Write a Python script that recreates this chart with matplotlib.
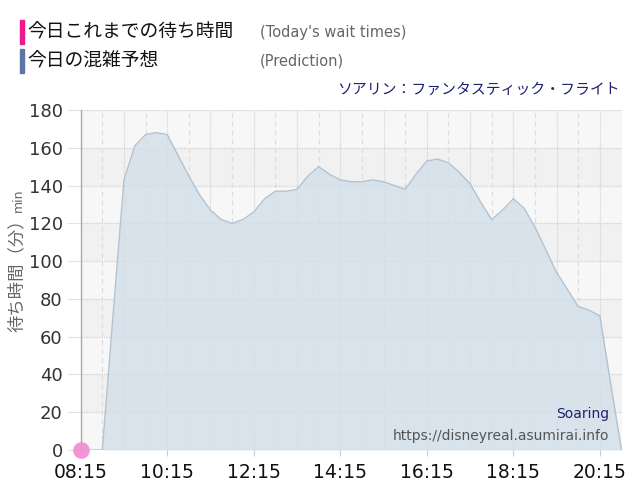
import matplotlib
matplotlib.use("Agg")
import matplotlib.pyplot as plt
from matplotlib.patches import Rectangle

plt.rcParams["font.family"] = ["DejaVu Sans", "Noto Sans CJK JP"]

# ─── Data ─────────────────────────────────────────────────────────────────────
START_HOUR, START_MIN = 8, 15
STEP_MIN = 15

# 今日の混雑予想 (prediction), every 15 min from 08:15 to 20:45
prediction = [
    0, 0, 0, 72, 143, 161, 167, 168, 167, 156, 145, 135, 127, 122, 120, 122,
    126, 133, 137, 137, 138, 145, 150, 146, 143, 142, 142, 143, 142, 140, 138,
    146, 153, 154, 152, 147, 141, 131, 122, 127, 133, 128, 118, 106, 94, 85,
    76, 74, 71, 35, 0,
]
# 今日これまでの待ち時間 (actual so far)
actual_times = ["08:15"]
actual_values = [0]

x_tick_labels = ["08:15", "10:15", "12:15", "14:15", "16:15", "18:15", "20:15"]
y_ticks = [0, 20, 40, 60, 80, 100, 120, 140, 160, 180]

legend_labels = ["今日これまでの待ち時間", "今日の混雑予想"]
legend_notes = ["(Today's wait times)", "(Prediction)"]
title = "ソアリン：ファンタスティック・フライト"
attraction = "Soaring"
source = "https://disneyreal.asumirai.info"


def to_min(label):
    h, m = label.split(":")
    return (int(h) - START_HOUR) * 60 + int(m) - START_MIN


pred_x = [i * STEP_MIN for i in range(len(prediction))]
actual_x = [to_min(t) for t in actual_times]

# ─── Figure ───────────────────────────────────────────────────────────────────
W, H = 640, 500
fig = plt.figure(figsize=(W / 100, H / 100), dpi=100)
ax = fig.add_axes([80.7 / W, 50 / H, (621.5 - 80.7) / W, 340 / H])

x_max = pred_x[-1]
ax.set_xlim(0, x_max)
ax.set_ylim(0, 180)

# alternating background bands (top band is the lighter one)
for k, (lo, hi) in enumerate(zip(y_ticks[:-1], y_ticks[1:])):
    ax.axhspan(lo, hi, color="#f7f7f7" if k % 2 == 0 else "#f1f1f1",
               lw=0, zorder=0)

# grid lines
for yv in y_ticks[1:]:
    ax.axhline(yv, color="#d0d0d0", lw=0.9, ls=(0, (1, 1)), zorder=1)
for xv in range(0, x_max + 1, 60):
    ax.axvline(xv, color="#d2d2d2", lw=0.9, ls=(0, (1, 1)), zorder=1)
for xv in range(30, x_max + 1, 60):
    ax.axvline(xv, color="#dedede", lw=0.9, ls=(0, (4, 3)), zorder=1)

# prediction area
ax.fill_between(pred_x, prediction, 0, color="#d2dfea", alpha=0.8,
                lw=0, zorder=2)
ax.plot(pred_x, prediction, color="#b4c2d0", lw=1.0, zorder=3)

# today's actual wait times
ax.plot(actual_x, actual_values, "o", ms=12, color="#f28ad0", alpha=0.9,
        mec="none", clip_on=False, zorder=5)

# axes styling
for side in ["top", "right", "bottom"]:
    ax.spines[side].set_visible(False)
ax.spines["left"].set_color("#aaaaaa")
ax.spines["left"].set_linewidth(1.0)

ax.set_yticks(y_ticks)
ax.set_yticklabels([str(v) for v in y_ticks])
ax.tick_params(axis="y", length=10, width=0.8, color="#e3e3e3",
               labelsize=13, labelcolor="#333333", pad=3)

ax.set_xticks([to_min(t) for t in x_tick_labels])
ax.set_xticklabels(x_tick_labels)
ax.tick_params(axis="x", length=4, width=0.8, color="#cccccc",
               labelsize=13.5, labelcolor="#111111", pad=5)

# y label
fig.text(17 / W, 1 - 332 / H, "待ち時間（分）", rotation=90, ha="center",
         va="bottom", fontsize=12.5, color="#666666",
         family=["Noto Sans CJK JP", "DejaVu Sans"])
fig.text(18 / W, 1 - 212 / H, "min", rotation=90, ha="center", va="bottom",
         fontsize=9, color="#666666")

# ─── Header legend ────────────────────────────────────────────────────────────
bar_colors = ["#f0198c", "#5d77a3"]
row_centers = [32, 61]
for lab, note, col, yc in zip(legend_labels, legend_notes, bar_colors,
                              row_centers):
    fig.patches.append(Rectangle((20 / W, 1 - (yc + 12) / H), 4 / W, 24 / H,
                                 color=col, transform=fig.transFigure))
    fig.text(27 / W, 1 - yc / H, lab, ha="left", va="center", fontsize=13.5,
             color="#111111", family=["Noto Sans CJK JP", "DejaVu Sans"])
    fig.text(260 / W, 1 - yc / H, note, ha="left", va="center",
             fontsize=10.5, color="#666666")

fig.text(620 / W, 1 - 90 / H, title, ha="right", va="center", fontsize=10.7,
         color="#1f2070", family=["Noto Sans CJK JP", "DejaVu Sans"])

# ─── Watermark ────────────────────────────────────────────────────────────────
ax.text(0.978, 0.105, attraction, transform=ax.transAxes, ha="right",
        va="center", fontsize=10, color="#1f2070", zorder=6)
ax.text(0.978, 0.04, source, transform=ax.transAxes, ha="right",
        va="center", fontsize=10, color="#555555", zorder=6)

fig.savefig("out.png", dpi=100)
